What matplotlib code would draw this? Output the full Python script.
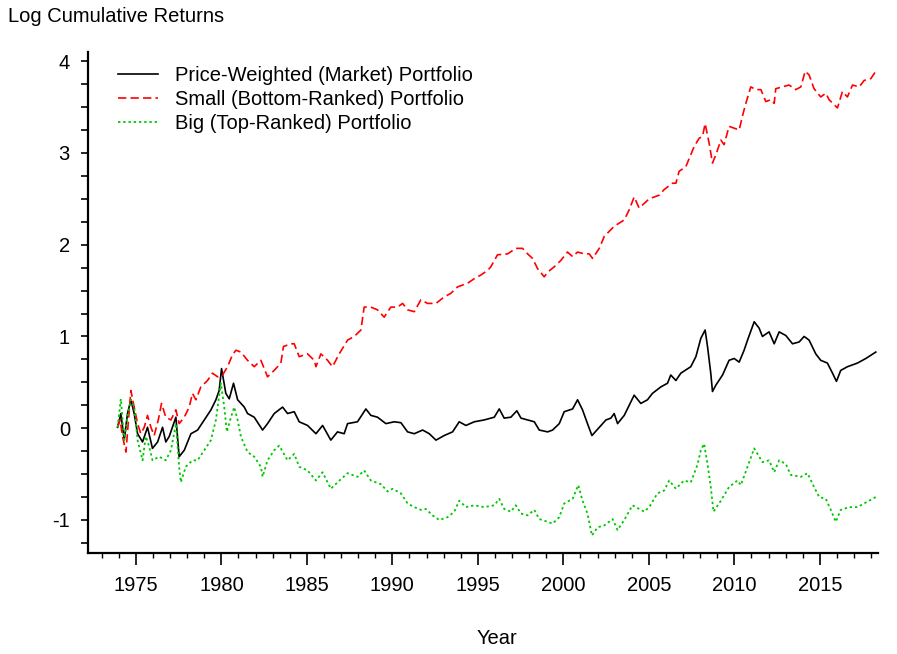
import numpy as np
import matplotlib
matplotlib.use('Agg')
import matplotlib.pyplot as plt
from matplotlib.ticker import MultipleLocator

plt.rcParams['font.family'] = ['Liberation Sans', 'DejaVu Sans']
plt.rcParams['axes.unicode_minus'] = False

# values
mkt_yr = [1973.93, 1974.12, 1974.32, 1974.51, 1974.71, 1974.90, 1975.10, 1975.39, 1975.68, 1975.97,
          1976.27, 1976.56, 1976.75, 1976.95, 1977.34, 1977.53, 1977.83, 1978.22, 1978.61, 1979.00,
          1979.39, 1979.68, 1979.87, 1980.01, 1980.26, 1980.46, 1980.71, 1980.95, 1981.34, 1981.53,
          1981.92, 1982.41, 1982.70, 1983.09, 1983.58, 1983.87, 1984.26, 1984.55, 1985.04, 1985.53,
          1985.92, 1986.40, 1986.79, 1987.18, 1987.38, 1987.96, 1988.45, 1988.74, 1989.13, 1989.62,
          1990.11, 1990.50, 1990.89, 1991.28, 1991.77, 1992.16, 1992.55, 1993.03, 1993.52, 1993.91,
          1994.30, 1994.79, 1995.37, 1995.96, 1996.25, 1996.54, 1996.93, 1997.28, 1997.52, 1997.91,
          1998.30, 1998.59, 1999.08, 1999.37, 1999.76, 2000.05, 2000.54, 2000.83, 2001.12, 2001.41,
          2001.67, 2002.10, 2002.49, 2002.78, 2002.97, 2003.17, 2003.56, 2004.14, 2004.53, 2004.92,
          2005.21, 2005.70, 2006.09, 2006.28, 2006.58, 2006.87, 2007.45, 2007.75, 2008.04, 2008.29,
          2008.43, 2008.62, 2008.72, 2008.92, 2009.31, 2009.69, 2009.99, 2010.28, 2010.57, 2010.77,
          2011.16, 2011.45, 2011.64, 2012.03, 2012.33, 2012.62, 2013.01, 2013.40, 2013.79, 2014.08,
          2014.37, 2014.76, 2015.05, 2015.44, 2015.74, 2015.97, 2016.22, 2016.61, 2017.20, 2017.69,
          2018.27]
mkt = [0.01, 0.16, -0.13, 0.16, 0.31, 0.16, -0.06, -0.15, 0.01, -0.22,
       -0.15, 0.01, -0.15, -0.09, 0.12, -0.31, -0.24, -0.06, -0.02, 0.09,
       0.20, 0.31, 0.41, 0.65, 0.38, 0.32, 0.49, 0.31, 0.23, 0.16,
       0.12, -0.02, 0.05, 0.16, 0.23, 0.16, 0.18, 0.07, 0.03, -0.06,
       0.03, -0.13, -0.04, -0.06, 0.05, 0.07, 0.21, 0.14, 0.12, 0.05,
       0.07, 0.06, -0.04, -0.06, -0.02, -0.06, -0.13, -0.08, -0.04, 0.07,
       0.03, 0.07, 0.09, 0.12, 0.21, 0.11, 0.12, 0.19, 0.11, 0.09,
       0.07, -0.02, -0.04, -0.02, 0.05, 0.18, 0.21, 0.31, 0.20, 0.05,
       -0.08, 0.01, 0.09, 0.11, 0.16, 0.05, 0.14, 0.36, 0.27, 0.31,
       0.38, 0.45, 0.49, 0.58, 0.52, 0.60, 0.67, 0.78, 0.98, 1.07,
       0.89, 0.60, 0.40, 0.47, 0.58, 0.74, 0.76, 0.72, 0.85, 0.96,
       1.16, 1.09, 1.00, 1.05, 0.92, 1.05, 1.01, 0.92, 0.94, 1.00,
       0.96, 0.81, 0.74, 0.71, 0.60, 0.51, 0.63, 0.67, 0.71, 0.76,
       0.83]

small_yr = [1973.93, 1974.08, 1974.22, 1974.42, 1974.55, 1974.71, 1974.90, 1975.10, 1975.29, 1975.49,
            1975.68, 1975.88, 1976.07, 1976.31, 1976.50, 1976.75, 1977.05, 1977.34, 1977.53, 1977.83,
            1978.12, 1978.31, 1978.51, 1978.80, 1979.19, 1979.48, 1979.78, 1980.07, 1980.36, 1980.65,
            1980.85, 1981.14, 1981.53, 1981.92, 1982.31, 1982.70, 1983.09, 1983.48, 1983.63, 1984.06,
            1984.26, 1984.55, 1985.04, 1985.43, 1985.53, 1985.82, 1986.21, 1986.50, 1986.89, 1987.38,
            1987.77, 1988.16, 1988.35, 1988.74, 1989.13, 1989.52, 1989.91, 1990.30, 1990.60, 1990.89,
            1991.28, 1991.67, 1992.06, 1992.55, 1993.03, 1993.42, 1993.81, 1994.40, 1994.79, 1995.18,
            1995.57, 1995.76, 1996.15, 1996.74, 1997.22, 1997.61, 1997.91, 1998.20, 1998.49, 1998.88,
            1999.08, 1999.47, 1999.86, 2000.24, 2000.54, 2000.83, 2001.22, 2001.51, 2001.71, 2002.10,
            2002.39, 2002.97, 2003.56, 2003.85, 2004.14, 2004.43, 2004.73, 2005.02, 2005.31, 2005.60,
            2005.89, 2006.38, 2006.58, 2006.77, 2007.16, 2007.36, 2007.65, 2007.94, 2008.14, 2008.29,
            2008.53, 2008.72, 2008.92, 2009.21, 2009.40, 2009.69, 2009.99, 2010.28, 2010.47, 2010.67,
            2010.96, 2011.25, 2011.55, 2011.84, 2012.13, 2012.33, 2012.42, 2012.81, 2013.20, 2013.59,
            2013.89, 2014.14, 2014.37, 2014.66, 2015.05, 2015.35, 2015.54, 2016.03, 2016.32, 2016.61,
            2016.91, 2017.30, 2017.59, 2017.98, 2018.27]
small = [0.01, 0.09, -0.09, -0.26, 0.05, 0.41, 0.23, 0.05, -0.06, 0.01,
         0.14, 0.01, -0.08, 0.09, 0.27, 0.12, 0.09, 0.20, 0.05, 0.12,
         0.23, 0.38, 0.31, 0.45, 0.52, 0.60, 0.56, 0.58, 0.67, 0.80,
         0.85, 0.83, 0.74, 0.67, 0.74, 0.56, 0.63, 0.71, 0.89, 0.92,
         0.92, 0.78, 0.81, 0.74, 0.67, 0.81, 0.74, 0.67, 0.81, 0.96,
         1.00, 1.07, 1.32, 1.32, 1.29, 1.21, 1.32, 1.32, 1.36, 1.29,
         1.27, 1.40, 1.36, 1.36, 1.43, 1.47, 1.54, 1.58, 1.63, 1.67,
         1.72, 1.76, 1.89, 1.90, 1.96, 1.96, 1.90, 1.85, 1.74, 1.65,
         1.70, 1.76, 1.83, 1.92, 1.87, 1.92, 1.90, 1.90, 1.85, 1.96,
         2.09, 2.20, 2.27, 2.38, 2.52, 2.40, 2.45, 2.50, 2.52, 2.54,
         2.60, 2.67, 2.67, 2.80, 2.85, 2.94, 3.07, 3.16, 3.18, 3.32,
         3.10, 2.89, 2.98, 3.14, 3.09, 3.29, 3.27, 3.25, 3.40, 3.54,
         3.72, 3.69, 3.69, 3.56, 3.58, 3.54, 3.70, 3.72, 3.74, 3.69,
         3.72, 3.89, 3.85, 3.70, 3.61, 3.65, 3.58, 3.49, 3.67, 3.61,
         3.74, 3.72, 3.79, 3.81, 3.89]

big_yr = [1973.93, 1974.12, 1974.32, 1974.51, 1974.71, 1974.90, 1975.10, 1975.39, 1975.58, 1975.78,
          1975.97, 1976.36, 1976.75, 1977.05, 1977.34, 1977.53, 1977.63, 1977.92, 1978.31, 1978.61,
          1979.00, 1979.39, 1979.68, 1979.97, 1980.17, 1980.32, 1980.56, 1980.75, 1980.95, 1981.14,
          1981.53, 1981.92, 1982.31, 1982.41, 1982.70, 1983.09, 1983.38, 1983.87, 1984.26, 1984.55,
          1985.04, 1985.53, 1985.92, 1986.40, 1986.79, 1987.38, 1987.96, 1988.35, 1988.74, 1989.33,
          1989.72, 1990.01, 1990.50, 1990.89, 1991.28, 1991.67, 1991.96, 1992.35, 1992.74, 1993.23,
          1993.62, 1993.91, 1994.30, 1994.79, 1995.37, 1995.96, 1996.25, 1996.54, 1996.93, 1997.22,
          1997.52, 1997.91, 1998.30, 1998.59, 1999.08, 1999.37, 1999.76, 2000.05, 2000.54, 2000.87,
          2001.12, 2001.41, 2001.67, 2002.00, 2002.39, 2002.88, 2003.17, 2003.56, 2004.04, 2004.43,
          2004.73, 2005.02, 2005.50, 2005.89, 2006.19, 2006.58, 2007.06, 2007.45, 2007.84, 2008.04,
          2008.23, 2008.43, 2008.62, 2008.78, 2009.21, 2009.69, 2010.18, 2010.38, 2010.77, 2011.16,
          2011.45, 2011.64, 2012.03, 2012.33, 2012.62, 2013.01, 2013.30, 2013.89, 2014.28, 2014.66,
          2014.96, 2015.35, 2015.64, 2015.93, 2016.22, 2016.71, 2017.20, 2017.78, 2018.27]
big = [0.01, 0.32, -0.13, 0.12, 0.31, 0.23, -0.13, -0.35, -0.09, -0.20,
       -0.35, -0.31, -0.35, -0.24, 0.05, -0.42, -0.59, -0.42, -0.35, -0.35,
       -0.24, -0.13, 0.09, 0.49, 0.23, -0.04, 0.12, 0.23, 0.09, -0.09,
       -0.26, -0.31, -0.42, -0.53, -0.35, -0.24, -0.19, -0.35, -0.28, -0.42,
       -0.46, -0.57, -0.48, -0.66, -0.59, -0.49, -0.53, -0.46, -0.57, -0.61,
       -0.69, -0.66, -0.71, -0.82, -0.86, -0.89, -0.88, -0.95, -1.00, -0.97,
       -0.91, -0.79, -0.86, -0.84, -0.86, -0.84, -0.77, -0.88, -0.91, -0.84,
       -0.93, -0.95, -0.89, -0.99, -1.02, -1.04, -0.97, -0.82, -0.77, -0.62,
       -0.79, -0.93, -1.17, -1.08, -1.06, -0.99, -1.11, -1.00, -0.84, -0.88,
       -0.91, -0.86, -0.71, -0.68, -0.57, -0.66, -0.57, -0.59, -0.40, -0.24,
       -0.17, -0.39, -0.64, -0.91, -0.79, -0.64, -0.57, -0.62, -0.42, -0.22,
       -0.31, -0.37, -0.35, -0.48, -0.35, -0.39, -0.51, -0.53, -0.49, -0.64,
       -0.75, -0.77, -0.89, -1.02, -0.89, -0.86, -0.86, -0.80, -0.75]

labels = ['Price-Weighted (Market) Portfolio', 'Small (Bottom-Ranked) Portfolio',
          'Big (Top-Ranked) Portfolio']

fs = 14.5
fig = plt.figure(figsize=(8.97, 6.54), dpi=100)
ax = fig.add_axes([88/897, 1-553/654, (878-88)/897, (553-52)/654])

ax.plot(mkt_yr, mkt, color='black', lw=1.2, label=labels[0])
ax.plot(small_yr, small, color='#ff0000', lw=1.2, dashes=(5, 2.5), label=labels[1])
ax.plot(big_yr, big, color='#00c800', lw=1.3, dashes=(1.3, 1.6), label=labels[2])

ax.set_xlim(1972.2, 2018.4)
ax.set_ylim(-1.36, 4.1)
ax.spines['top'].set_visible(False)
ax.spines['right'].set_visible(False)
ax.spines['left'].set_linewidth(1.6)
ax.spines['bottom'].set_linewidth(1.6)

ax.xaxis.set_minor_locator(MultipleLocator(1))
ax.yaxis.set_major_locator(MultipleLocator(1))
ax.yaxis.set_minor_locator(MultipleLocator(0.25))
ax.set_xticks(np.arange(1975, 2016, 5))
ax.tick_params(axis='x', which='major', length=8.5, width=1.2, pad=8, labelsize=fs)
ax.tick_params(axis='x', which='minor', length=3.5, width=1.0)
ax.tick_params(axis='y', which='both', length=5, width=1.2, pad=8, labelsize=fs)

fig.text(8/897, 1-17/654, 'Log Cumulative Returns', fontsize=fs, ha='left', va='center')
fig.text(497/897, 1-638/654, 'Year', fontsize=fs, ha='center', va='center')

ax.legend(loc='upper left', bbox_to_anchor=(118/897, 1-66/654), bbox_transform=fig.transFigure,
          frameon=False, fontsize=fs, handlelength=2.0, handletextpad=0.85,
          labelspacing=0.25, borderpad=0, borderaxespad=0)

fig.savefig('out.png', dpi=100)
